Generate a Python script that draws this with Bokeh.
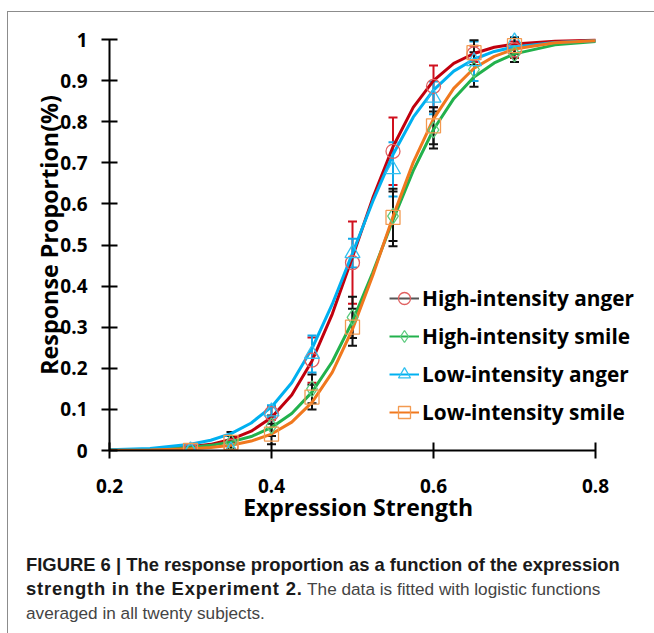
from bokeh.plotting import figure
from bokeh.models import (ColumnDataSource, Whisker, TeeHead, Legend, LegendItem,
                          FixedTicker, Range1d, Div)
from bokeh.layouts import column
from bokeh.embed import file_html
from bokeh.resources import INLINE

# ---------------- data ----------------
x_pts = [0.3, 0.35, 0.4, 0.45, 0.5, 0.55, 0.6, 0.65, 0.7]

high_anger = [0.0, 0.01, 0.09, 0.22, 0.457, 0.728, 0.886, 0.965, 0.975]
high_anger_err = [0.005, 0.01, 0.015, 0.055, 0.1, 0.082, 0.051, 0.02, 0.02]
high_smile = [0.0, 0.02, 0.06, 0.15, 0.324, 0.57, 0.78, 0.927, 0.965]
high_smile_err = [0.005, 0.025, 0.025, 0.035, 0.05, 0.06, 0.045, 0.042, 0.02]
low_anger = [0.0, 0.0, 0.095, 0.235, 0.48, 0.684, 0.858, 0.947, 0.995]
low_anger_err = [0.005, 0.0, 0.015, 0.045, 0.035, 0.066, 0.04, 0.048, 0.01]
low_smile = [0.0, 0.02, 0.04, 0.13, 0.30, 0.567, 0.79, 0.968, 0.985]
low_smile_err = [0.005, 0.015, 0.025, 0.03, 0.045, 0.07, 0.045, 0.03, 0.02]

fit_x = [0.2, 0.25, 0.3, 0.325, 0.35, 0.375, 0.4, 0.425, 0.45, 0.475, 0.5,
         0.525, 0.55, 0.575, 0.6, 0.625, 0.65, 0.675, 0.7, 0.75, 0.8]
fit_high_anger = [0.001, 0.003, 0.009, 0.015, 0.027, 0.047, 0.080, 0.135, 0.218, 0.332, 0.471,
                  0.614, 0.739, 0.835, 0.900, 0.942, 0.966, 0.981, 0.989, 0.996, 0.998]
fit_low_anger = [0.002, 0.005, 0.015, 0.025, 0.041, 0.067, 0.106, 0.165, 0.248, 0.356, 0.480,
                 0.606, 0.720, 0.811, 0.877, 0.923, 0.952, 0.971, 0.982, 0.993, 0.997]
fit_high_smile = [0.001, 0.003, 0.0075, 0.0125, 0.021, 0.034, 0.056, 0.090, 0.142, 0.216, 0.314,
                  0.433, 0.561, 0.681, 0.781, 0.856, 0.909, 0.943, 0.965, 0.987, 0.995]
fit_low_smile = [0.0004, 0.0013, 0.0042, 0.0074, 0.013, 0.023, 0.040, 0.069, 0.117, 0.190, 0.295,
                 0.426, 0.569, 0.701, 0.807, 0.881, 0.930, 0.959, 0.977, 0.992, 0.997]

series_names = ["High-intensity anger", "High-intensity smile",
                "Low-intensity anger", "Low-intensity smile"]

x_ticks = [0.2, 0.4, 0.6, 0.8]
x_tick_labels = ["0.2", "0.4", "0.6", "0.8"]
y_ticks = [0, 0.1, 0.2, 0.3, 0.4, 0.5, 0.6, 0.7, 0.8, 0.9, 1]
y_tick_labels = ["0", "0.1", "0.2", "0.3", "0.4", "0.5", "0.6", "0.7", "0.8", "0.9", "1"]

x_title = "Expression Strength"
y_title = "Response Proportion(%)"

caption_bold = ["FIGURE 6 | The response proportion as a function of the expression",
                "strength in the Experiment 2."]
caption_regular = ["The data is fitted with logistic functions",
                   "averaged in all twenty subjects."]

# ---------------- figure ----------------
FONT = "Open Sans"
NBSP = "\u00a0"
p = figure(width=644, height=532,
           x_range=Range1d(0.2, 0.2 + 539 / 810), y_range=Range1d(0, 1 + 8 / 411),
           output_backend="svg", toolbar_location=None,
           min_border_left=101, min_border_right=4,
           min_border_top=19, min_border_bottom=94)
p.grid.visible = False
p.outline_line_color = None
p.background_fill_color = "white"
p.border_fill_color = "white"

# axes
p.xaxis.bounds = (0.2, 0.8)
p.yaxis.bounds = (0, 1)
p.xaxis.ticker = FixedTicker(ticks=x_ticks)
p.yaxis.ticker = FixedTicker(ticks=y_ticks)
p.xaxis.major_label_overrides = dict(zip(x_ticks, x_tick_labels))
p.yaxis.major_label_overrides = dict(zip(y_ticks, y_tick_labels))
for ax in (p.xaxis[0], p.yaxis[0]):
    ax.axis_line_color = "black"
    ax.axis_line_width = 2
    ax.major_tick_line_color = "black"
    ax.major_tick_line_width = 2
    ax.major_tick_in = 8
    ax.major_tick_out = 8
    ax.minor_tick_line_color = None
    ax.major_label_text_font = FONT
    ax.major_label_text_font_style = "bold"
    ax.major_label_text_font_size = "19px"
    ax.major_label_text_color = "black"
    ax.axis_label_text_font = FONT
    ax.axis_label_text_font_style = "bold"
    ax.axis_label_text_color = "black"
p.xaxis.axis_label_text_font_size = "23px"
p.yaxis.axis_label_text_font_size = "23.3px"
p.xaxis.major_label_standoff = 20
p.yaxis.major_label_standoff = 14
# the axis titles are centred on the plot frame; non-breaking spaces move them
# to where the reference draws them
p.xaxis.axis_label = x_title + NBSP * 7
p.yaxis.axis_label = NBSP * 2 + y_title
p.xaxis.axis_label_standoff = -5
p.yaxis.axis_label_standoff = -8

curve_colors = ["#C0000E", "#22B14C", "#00B0F0", "#F0781E"]
marker_colors = ["#E06060", "#5CCB7E", "#30C0F0", "#F39A50"]
err_colors = ["#D0101E", "#111111", "#10A8E8", "#111111"]
markers = ["circle", "diamond", "triangle", "square"]
marker_sizes = [14, 16, 15, 14]
legend_line_colors = ["#555555", "#22B14C", "#00B0F0", "#F0781E"]

values = [high_anger, high_smile, low_anger, low_smile]
errors = [high_anger_err, high_smile_err, low_anger_err, low_smile_err]
fits = [fit_high_anger, fit_high_smile, fit_low_anger, fit_low_smile]

# error bars
for vals, errs, ec in zip(values, errors, err_colors):
    src = ColumnDataSource(dict(x=x_pts,
                                upper=[v + e for v, e in zip(vals, errs)],
                                lower=[v - e for v, e in zip(vals, errs)]))
    w = Whisker(source=src, base="x", upper="upper", lower="lower",
                line_color=ec, line_width=2,
                upper_head=TeeHead(size=9, line_color=ec, line_width=2),
                lower_head=TeeHead(size=9, line_color=ec, line_width=2))
    p.add_layout(w)

# fitted curves
for fv, cc in zip(fits, curve_colors):
    p.line(fit_x, fv, line_color=cc, line_width=3)

# data markers
marker_renderers = []
for vals, mc, mk, ms in zip(values, marker_colors, markers, marker_sizes):
    r = p.scatter(x_pts, vals, marker=mk, size=ms, fill_color=None,
                  line_color=mc, line_width=1.3)
    marker_renderers.append(r)

# legend (line swatch renderers hold a single point, so they draw nothing in the plot)
items = []
for name, lc, mr, vals in zip(series_names, legend_line_colors, marker_renderers, values):
    swatch = p.line(x=x_pts[:1], y=vals[:1], line_color=lc, line_width=2)
    items.append(LegendItem(label=name, renderers=[swatch, mr]))
legend = Legend(items=items, location=(280, 21), orientation="vertical",
                glyph_width=30, glyph_height=34, label_height=34, spacing=4,
                padding=0, margin=0, label_standoff=3,
                border_line_color=None, background_fill_alpha=0,
                label_text_font=FONT, label_text_font_style="bold",
                label_text_font_size="20.8px", label_text_color="black")
p.add_layout(legend)

# caption
caption_html = (
    "<div style=\"font-family:'Liberation Sans',Arial,sans-serif;font-size:17.2px;"
    "line-height:24px;color:#444444;padding-left:13px;padding-top:4px;white-space:nowrap\">"
    "<b style='color:#1a1a1a;font-size:18.4px'>" + caption_bold[0] + "</b><br>"
    "<b style='color:#1a1a1a;font-size:18.4px;letter-spacing:0.8px'>"
    + caption_bold[1] + "</b> " + caption_regular[0] + "<br>" + caption_regular[1] + "</div>"
)
cap = Div(text=caption_html, width=644, height=85)

layout = column(p, cap, styles={"border-left": "1px solid #8c8c8c",
                                "border-top": "1px solid #8c8c8c",
                                "margin-top": "11px", "margin-left": "7px"})

open("out.html", "w").write(file_html(layout, INLINE))
